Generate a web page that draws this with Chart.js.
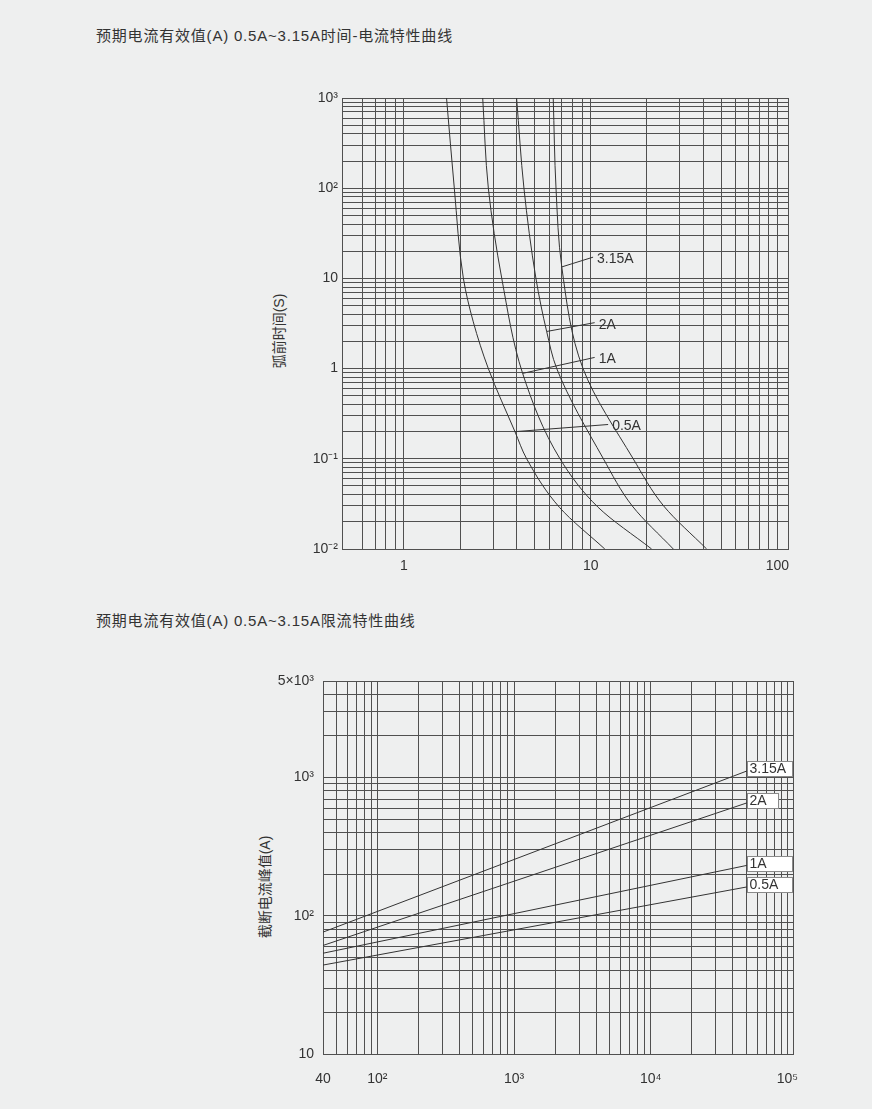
<!DOCTYPE html>
<html>
<head>
<meta charset="utf-8">
<script src="https://cdn.jsdelivr.net/npm/chart.js@4.4.1/dist/chart.umd.min.js"></script>
<style>
  body { margin: 0; background: #eeefef; }
  #page { position: relative; width: 872px; height: 1109px; overflow: hidden; }
  .title { position: absolute; left: 96px; font: 15px 'Liberation Sans', 'Noto Sans CJK SC', sans-serif; letter-spacing: 0.8px; color: #333; line-height: 18px; white-space: nowrap; }
  .ytitle { position: absolute; width: 200px; height: 18px; line-height: 18px; text-align: center; font: 14px 'Liberation Sans', 'Noto Sans CJK SC', sans-serif; color: #333; transform: rotate(-90deg); white-space: nowrap; }
  canvas { position: absolute; left: 0; }
</style>
</head>
<body>
<div id="page">
  <div class="title" style="top:27px">预期电流有效值(A) 0.5A~3.15A时间-电流特性曲线</div>
  <div class="ytitle" style="left:177px; top:322px">弧前时间(S)</div>
  <canvas id="timeChart" width="872" height="530" style="top:70px"></canvas>

  <div class="title" style="top:612px">预期电流有效值(A) 0.5A~3.15A限流特性曲线</div>
  <div class="ytitle" style="left:163px; top:878px">截断电流峰值(A)</div>
  <canvas id="peakChart" width="872" height="459" style="top:650px"></canvas>
</div>

<script>
// ---- 上图：时间-电流特性 (预期电流 A / 弧前时间 s) ----
const timeSeriesNames = ['0.5A', '1A', '2A', '3.15A'];
const timeCurrent05  = [1.69, 1.86, 2.08, 2.35, 2.83, 3.93, 4.54, 6.8, 11.9];
const timeSec05      = [1000, 100, 10, 3.3, 1, 0.2, 0.1, 0.029, 0.01];
const timeCurrent1   = [2.64, 2.83, 3.34, 4.32, 6.85, 10.96, 21.2];
const timeSec1       = [1000, 100, 10, 0.885, 0.1, 0.029, 0.01];
const timeCurrent2   = [4.01, 4.39, 5.09, 5.81, 6.58, 11.7, 16.7, 27.7];
const timeSec2       = [1000, 100, 10, 2.58, 1, 0.1, 0.03, 0.01];
const timeCurrent315 = [6.3, 6.52, 7.0, 9.1, 16.9, 24.6, 41.8];
const timeSec315     = [1000, 100, 13.4, 1, 0.1, 0.03, 0.01];

// 标注引线：曲线上的起点 -> 文字位置 (数据坐标)
const timeLeaderFrom = [[3.93, 0.2], [4.32, 0.885], [5.81, 2.58], [7.0, 13.4]];
const timeLeaderTo   = [[12.4, 0.24], [10.5, 1.33], [10.5, 3.23], [10.3, 17.2]];

const timeXLabels = { 1: '1', 10: '10', 100: '100' };
const timeYLabels = { 1000: '10³', 100: '10²', 10: '10', 1: '1', 0.1: '10⁻¹', 0.01: '10⁻²' };

// ---- 下图：限流特性 (预期电流 A / 截断电流峰值 A) ----
const peakSeriesNames = ['3.15A', '2A', '1A', '0.5A'];
const peakProspective = [40, 51000];
const peak315 = [76.2, 1120];
const peak2   = [61, 658];
const peak1   = [53.6, 232];
const peak05  = [44, 162];
const peakBoxWidth = [45, 31, 45, 45];

const peakXLabels = { 40: '40', 100: '10²', 1000: '10³', 10000: '10⁴', 100000: '10⁵' };
const peakYLabels = { 5000: '5×10³', 1000: '10³', 100: '10²', 10: '10' };

const FONT = "'Liberation Sans', Arial, 'Noto Sans CJK SC', sans-serif";
const GRID = '#505050';
const INK = '#333333';

// 1..9 x 10^n 网格线
function gridValues(min, max) {
  const out = [];
  for (let e = Math.floor(Math.log10(min)); e <= Math.ceil(Math.log10(max)); e++) {
    for (let k = 1; k <= 9; k++) {
      const v = parseFloat((k * Math.pow(10, e)).toPrecision(6));
      if (v >= min * 0.9999 && v <= max * 1.0001) out.push(v);
    }
  }
  return out;
}

function lookup(map, v) {
  for (const k in map) {
    if (Math.abs(v - Number(k)) / Number(k) < 1e-6) return map[k];
  }
  return '';
}

function toPoints(xs, ys) {
  return xs.map((x, i) => ({ x: x, y: ys[i] }));
}

function logAxis(min, max, gridFrom, gridTo, labels, opts) {
  return {
    type: 'logarithmic',
    axis: opts.axis,
    min: min,
    max: max,
    afterBuildTicks: (s) => { s.ticks = gridValues(gridFrom, gridTo).map(v => ({ value: v })); },
    afterFit: opts.fit,
    grid: { color: GRID, lineWidth: 1, drawTicks: false },
    border: { display: false },
    ticks: {
      autoSkip: false,
      maxRotation: 0,
      padding: opts.pad,
      color: INK,
      font: { family: FONT, size: 14 },
      callback: (v) => lookup(labels, v)
    }
  };
}

const framePlugin = {
  id: 'frame',
  beforeDatasetsDraw(chart) {
    const a = chart.chartArea, ctx = chart.ctx;
    ctx.save();
    ctx.strokeStyle = GRID;
    ctx.lineWidth = 1;
    ctx.strokeRect(Math.round(a.left) + 0.5, Math.round(a.top) + 0.5,
      Math.round(a.right - a.left), Math.round(a.bottom - a.top));
    ctx.restore();
  }
};

const timeLabelPlugin = {
  id: 'timeLabels',
  afterDatasetsDraw(chart) {
    const { ctx } = chart;
    const xs = chart.scales.x, ys = chart.scales.y;
    ctx.save();
    ctx.strokeStyle = INK;
    ctx.lineWidth = 1;
    ctx.fillStyle = INK;
    ctx.font = '14px ' + FONT;
    ctx.textBaseline = 'middle';
    timeSeriesNames.forEach((name, i) => {
      const x0 = xs.getPixelForValue(timeLeaderFrom[i][0]);
      const y0 = ys.getPixelForValue(timeLeaderFrom[i][1]);
      const x1 = xs.getPixelForValue(timeLeaderTo[i][0]);
      const y1 = ys.getPixelForValue(timeLeaderTo[i][1]);
      ctx.beginPath();
      ctx.moveTo(x0, y0);
      ctx.lineTo(x1, y1);
      ctx.stroke();
      ctx.fillText(name, x1 + 4, y1 + 2);
    });
    ctx.restore();
  }
};

const peakLabelPlugin = {
  id: 'peakLabels',
  afterDatasetsDraw(chart) {
    const { ctx } = chart;
    ctx.save();
    ctx.font = '14px ' + FONT;
    ctx.textBaseline = 'middle';
    chart.data.datasets.forEach((ds, i) => {
      const pts = chart.getDatasetMeta(i).data;
      const p = pts[pts.length - 1];
      const left = Math.round(p.x) + 0.5, top = Math.round(p.y - 9.5) + 0.5;
      ctx.fillStyle = '#ffffff';
      ctx.fillRect(left, top, peakBoxWidth[i], 15);
      ctx.strokeStyle = '#8a8a8a';
      ctx.lineWidth = 1;
      ctx.strokeRect(left, top, peakBoxWidth[i], 15);
      ctx.fillStyle = INK;
      ctx.fillText(peakSeriesNames[i], left + 2, top + 8);
    });
    ctx.restore();
  }
};

function curve(xs, ys, smooth) {
  return {
    data: toPoints(xs, ys),
    borderColor: INK,
    borderWidth: 1,
    pointRadius: 0,
    fill: false,
    cubicInterpolationMode: smooth ? 'monotone' : 'default',
    tension: 0
  };
}

const baseOptions = {
  responsive: false,
  animation: false,
  events: [],
  plugins: { legend: { display: false }, tooltip: { enabled: false } }
};

new Chart(document.getElementById('timeChart'), {
  type: 'line',
  data: {
    datasets: [
      curve(timeCurrent05, timeSec05, true),
      curve(timeCurrent1, timeSec1, true),
      curve(timeCurrent2, timeSec2, true),
      curve(timeCurrent315, timeSec315, true)
    ]
  },
  options: Object.assign({}, baseOptions, {
    // 曲线按时间轴单调，沿 y 方向做单调插值更平滑
    indexAxis: 'y',
    layout: { padding: { left: 0, right: 84, top: 28, bottom: 11 } },
    scales: {
      // 原图左框即 0.5A 处，100 格线在右框内侧
      x: logAxis(0.4655, 114, 0.6, 100, timeXLabels, { axis: 'x', pad: 9, fit: (s) => { s.height = 40; } }),
      y: logAxis(0.01, 1000, 0.01, 1000, timeYLabels, { axis: 'y', pad: 4, fit: (s) => { s.width = 342; } })
    }
  }),
  plugins: [framePlugin, timeLabelPlugin]
});

new Chart(document.getElementById('peakChart'), {
  type: 'line',
  data: {
    datasets: [
      curve(peakProspective, peak315, false),
      curve(peakProspective, peak2, false),
      curve(peakProspective, peak1, false),
      curve(peakProspective, peak05, false)
    ]
  },
  options: Object.assign({}, baseOptions, {
    layout: { padding: { left: 0, right: 79, top: 31, bottom: 15 } },
    scales: {
      x: logAxis(40, 110000, 40, 100000, peakXLabels, { axis: 'x', pad: 17, fit: (s) => { s.height = 40; } }),
      y: logAxis(10, 5000, 10, 5000, peakYLabels, { axis: 'y', pad: 9, fit: (s) => { s.width = 323; } })
    }
  }),
  plugins: [framePlugin, peakLabelPlugin]
});
</script>
</body>
</html>
